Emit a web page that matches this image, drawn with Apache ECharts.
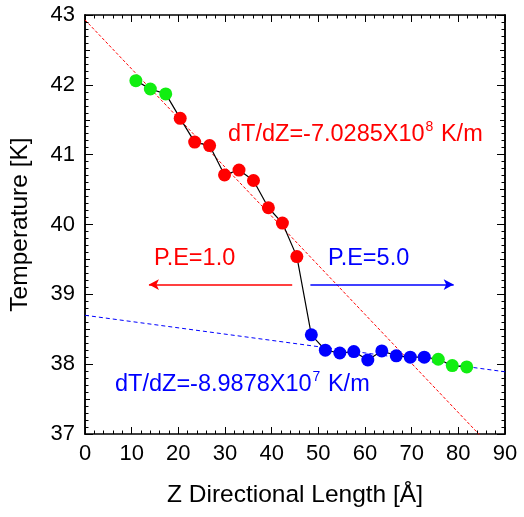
<!DOCTYPE html>
<html>
<head>
<meta charset="utf-8">
<script src="https://cdn.jsdelivr.net/npm/echarts@6/dist/echarts.min.js"></script>
<style>
html,body{margin:0;padding:0;background:#fff;}
#c{width:524px;height:517px;}
</style>
</head>
<body>
<div id="c"></div>
<script>
// ---- data ----
var greenLeftZ = [10.9, 14.0, 17.3];
var greenLeftT = [42.06, 41.94, 41.87];
var redZ = [20.4, 23.5, 26.7, 29.9, 33.0, 36.1, 39.3, 42.3, 45.4];
var redT = [41.52, 41.18, 41.13, 40.71, 40.78, 40.63, 40.24, 40.02, 39.54];
var blueZ = [48.5, 51.5, 54.6, 57.6, 60.6, 63.6, 66.7, 69.7, 72.7];
var blueT = [38.42, 38.20, 38.16, 38.18, 38.06, 38.19, 38.12, 38.10, 38.10];
var greenRightZ = [75.7, 78.7, 81.8];
var greenRightT = [38.07, 37.98, 37.96];
// linear fits: [intercept (K), slope (K/Angstrom)]
var redFit = [42.93, -0.070285];
var blueFit = [38.70, -0.0089878];
var fitRangeZ = [0, 90];
// arrows: [zStart, zEnd, T]
var redArrow = [44.4, 13.7, 39.14];
var blueArrow = [48.3, 79.0, 39.14];
var xTicks = [0, 90, 10];
var yTicks = [37, 43, 1];

function pairs(xs, ys){ return xs.map(function(x,i){ return [x, ys[i]]; }); }
function fitLine(f){ return fitRangeZ.map(function(z){ return [z, f[0] + f[1]*z]; }); }

var allZ = greenLeftZ.concat(redZ, blueZ, greenRightZ);
var allT = greenLeftT.concat(redT, blueT, greenRightT);

var FONT = 'Liberation Sans, Arial, sans-serif';
var chart = echarts.init(document.getElementById('c'), null, {renderer:'canvas'});

function xAx(pos, showLabel){
  return {
    type:'value', position:pos, min:xTicks[0], max:xTicks[1], interval:xTicks[2],
    axisLine:{show:true, onZero:false, lineStyle:{color:'#000', width:1.5}},
    axisTick:{show:true, inside:true, length:7, lineStyle:{color:'#000', width:1}},
    minorTick:{show:true, splitNumber:5, length:3.5, lineStyle:{color:'#000', width:1}},
    splitLine:{show:false},
    axisLabel:{show:showLabel, color:'#000', fontSize:22, fontFamily:FONT, margin:9},
    name: showLabel ? 'Z Directional Length [\u00c5]' : '',
    nameLocation:'middle', nameGap:49,
    nameTextStyle:{color:'#000', fontSize:24.5, fontFamily:FONT}
  };
}
function yAx(pos, showLabel, interval, tickLen, minor){
  return {
    type:'value', position:pos, min:yTicks[0], max:yTicks[1], interval:interval,
    axisLine:{show:true, onZero:false, lineStyle:{color:'#000', width:1.5}},
    axisTick:{show:true, inside:true, length:tickLen, lineStyle:{color:'#000', width:1}},
    minorTick:{show:minor, splitNumber:5, length:3.5, lineStyle:{color:'#000', width:1}},
    splitLine:{show:false},
    axisLabel:{show:showLabel, color:'#000', fontSize:22, fontFamily:FONT, margin:10},
    name: showLabel ? 'Temperature [K]' : '',
    nameLocation:'middle', nameGap:52, nameRotate:90,
    nameTextStyle:{color:'#000', fontSize:24.5, fontFamily:FONT}
  };
}

var option = {
  backgroundColor:'#fff',
  animation:false,
  grid:{left:84, right:19, top:15, bottom:83, containLabel:false},
  xAxis:[ xAx('bottom', true), xAx('top', false) ],
  yAxis:[
    yAx('left', true, yTicks[2], 8, false),
    yAx('left', false, yTicks[2]/2, 5, true),
    yAx('right', false, yTicks[2], 8, false),
    yAx('right', false, yTicks[2]/2, 5, true)
  ],
  series:[
    {type:'line', data:fitLine(redFit), symbol:'none', clip:true, z:2,
     lineStyle:{color:'#ff0000', width:1, type:[3,2]}},
    {type:'line', data:fitLine(blueFit), symbol:'none', clip:true, z:2,
     lineStyle:{color:'#0000ff', width:1, type:[4,3]}},
    {type:'line', data:pairs(allZ, allT), symbol:'none', z:3,
     lineStyle:{color:'#000', width:1.2}},
    {type:'scatter', data:pairs(greenLeftZ, greenLeftT).concat(pairs(greenRightZ, greenRightT)),
     symbolSize:13, z:4, itemStyle:{color:'#11ee11', opacity:1}},
    {type:'scatter', data:pairs(redZ, redT), symbolSize:13, z:4,
     itemStyle:{color:'#ff0000', opacity:1}},
    {type:'scatter', data:pairs(blueZ, blueT), symbolSize:13, z:4,
     itemStyle:{color:'#0000ff', opacity:1}},
    {type:'line', data:[], z:5,
     markLine:{silent:true, symbol:['none','arrow'], symbolSize:[8,10], animation:false,
       label:{show:false},
       data:[
         [{coord:[redArrow[0], redArrow[2]], lineStyle:{color:'#ff0000', width:1.5, type:'solid'}, itemStyle:{color:'#ff0000'}},
          {coord:[redArrow[1], redArrow[2]]}],
         [{coord:[blueArrow[0], blueArrow[2]], lineStyle:{color:'#0000ff', width:1.5, type:'solid'}, itemStyle:{color:'#0000ff'}},
          {coord:[blueArrow[1], blueArrow[2]]}]
       ]}}
  ],
  graphic:[
    {type:'text', left:228, top:120, z:10, style:{
      text:'dT/dZ=-7.0285X10{sup|8} K/m', fill:'#ff0000', font:'23.5px '+FONT,
      rich:{sup:{fontSize:14, fill:'#ff0000', fontFamily:FONT, padding:[0,1,15,1]}}}},
    {type:'text', left:115, top:370, z:10, style:{
      text:'dT/dZ=-8.9878X10{sup|7} K/m', fill:'#0000ff', font:'23.5px '+FONT,
      rich:{sup:{fontSize:14, fill:'#0000ff', fontFamily:FONT, padding:[0,1,15,1]}}}},
    {type:'text', left:154, top:247, z:10, style:{text:'P.E=1.0', fill:'#ff0000', font:'23.5px '+FONT}},
    {type:'text', left:328, top:247, z:10, style:{text:'P.E=5.0', fill:'#0000ff', font:'23.5px '+FONT}}
  ]
};
chart.setOption(option);
</script>
</body>
</html>
